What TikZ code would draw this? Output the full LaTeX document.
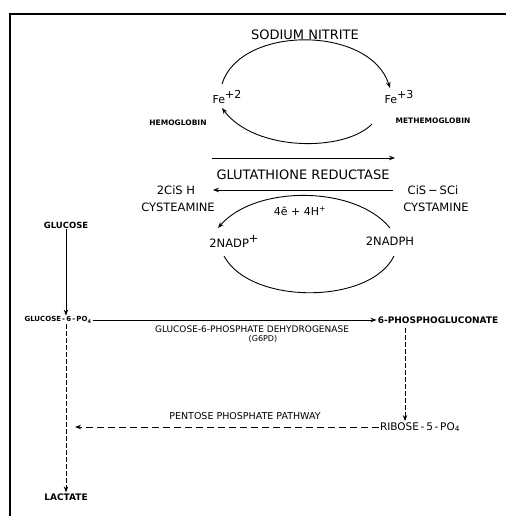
\documentclass[tikz,border=0pt]{standalone}
\usepackage{fontspec}
\setmainfont{DejaVu Sans}
\usetikzlibrary{arrows.meta}
\begin{document}
\begin{tikzpicture}[x=1pt,y=-1pt,
  lbl/.style={inner sep=1pt,font=\fontsize{#1}{#1}\selectfont},
  blb/.style={inner sep=1pt,font=\fontsize{#1}{#1}\selectfont\bfseries},
  arr/.style={-{Stealth[length=6pt,width=4.5pt]},line width=0.9pt},
  plain/.style={line width=0.9pt},
  dsh/.style={arr,dash pattern=on 7pt off 4pt},
  dsh2/.style={arr,line width=0.8pt,dash pattern=on 5pt off 2pt},
  frame/.style={line width=1.6pt}]
\useasboundingbox (0,0) rectangle (506,516);
\fill[white] (0,0) rectangle (506,516);
% frame
\draw[frame] (9,14) -- (506,14);
\draw[frame] (10,13) -- (10,516);

% top part
\node[lbl=13] (sn) at (305,35) {SODIUM NITRITE};
\node[lbl=11] (fe2) at (227,97) {Fe\raisebox{0.45em}{+2}};
\node[lbl=11] (fe3) at (399,97) {Fe\raisebox{0.45em}{+3}};
\node[blb=7.5] (hb) at (178,123) {HEMOGLOBIN};
\node[blb=7.5] (mhb) at (433,121) {METHEMOGLOBIN};
\coordinate (t1) at (222,84);
\coordinate (t2) at (390,88);
\coordinate (b1) at (372,124);
\coordinate (b2) at (222,108);
\draw[arr] (t1) .. controls (240,25) and (370,25) .. (t2);
\draw[arr] (b1) .. controls (345,152) and (255,152) .. (b2);

\coordinate (g1) at (212,158);
\coordinate (g2) at (395,158);
\draw[arr] (g1) -- (g2);
\node[lbl=13] (gr) at (303,175) {GLUTATHIONE REDUCTASE};

\node[lbl=11.5] (cish) at (176,190) {2CiS H};
\node[lbl=11.5] (cys1) at (178,207) {CYSTEAMINE};
\node[lbl=11.5] (cis) at (433,190) {CiS\,−\,SCi};
\node[lbl=11.5] (cys2) at (436,207) {CYSTAMINE};
\coordinate (l1) at (393,190);
\coordinate (l2) at (213,190);
\draw[arr] (l1) -- (l2);
\node[lbl=11] (elec) at (300,211) {4ē + 4H\textsuperscript{+}};

\node[lbl=11.5] (nadp) at (234,241) {2NADP\raisebox{0.45em}{+}};
\node[lbl=11.5] (nadph) at (390,241) {2NADPH};
\coordinate (n1) at (390,228);
\coordinate (n2) at (218,228);
\coordinate (m1) at (224,256);
\coordinate (m2) at (394,256);
\draw[arr] (n1) .. controls (355,185) and (255,185) .. (n2);
\draw[plain] (m1) .. controls (250,305) and (370,305) .. (m2);

% lower part
\node[blb=8.5] (glc) at (66,225) {GLUCOSE};
\node[blb=7] (g6p) at (58,320) {GLUCOSE\,-\,6\,-\,PO\textsubscript{4}};
\node[blb=9] (pg6) at (438,320) {6-PHOSPHOGLUCONATE};
\draw[arr] (glc.south) -- (glc.south |- g6p.north);
\draw[arr] (g6p.east) -- (pg6.west);
\node[lbl=9] (g6pd) at (252,329) {GLUCOSE-6-PHOSPHATE DEHYDROGENASE};
\node[lbl=8] (g6pdab) at (263,339) {(G6PD)};

\node[lbl=10.5] (rib) at (420,427) {RIBOSE\,-\,5\,-\,PO\textsubscript{4}};
\coordinate (v1) at (405,328);
\draw[dsh2] (v1) -- (v1 |- rib.north);
\coordinate (p2) at (75,427);
\draw[dsh] (rib.west) -- (p2);
\node[lbl=9.5] (ppp) at (245,416) {PENTOSE PHOSPHATE PATHWAY};

\node[blb=9] (lac) at (66,497) {LACTATE};
\draw[dsh2] (g6p.south -| glc.south) -- (lac.north);
\end{tikzpicture}
\end{document}
